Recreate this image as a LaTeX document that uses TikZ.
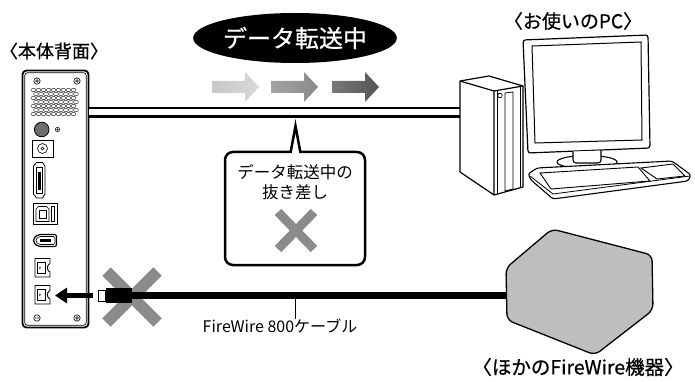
\documentclass[tikz,border=0pt]{standalone}
\usepackage{fontspec}
\setmainfont{Noto Sans CJK JP}
\newfontfamily\heavyjp{Noto Sans CJK JP}[FakeBold=0.7]
\usetikzlibrary{shapes.geometric,arrows.meta}

\definecolor{xgray}{HTML}{8A8B8D}
\definecolor{devgray}{HTML}{BCBEC0}
\definecolor{knob}{HTML}{6D6E71}

\tikzset{
  caption/.style={inner sep=0pt, font=\heavyjp\fontsize{#1}{20}\selectfont},
  note/.style={inner sep=0pt, align=center, font=\fontsize{16.5}{20}\selectfont},
  cross/.style={xgray, line width=#1},
  thin line/.style={line width=0.7pt},
}

\begin{document}
\begin{tikzpicture}[x=1pt,y=-1pt]
\useasboundingbox (0,0) rectangle (695,382);

% captions
\node[caption=18] (unitlbl) at (54,51) {〈本体背面〉};
\node[caption=19] (pclbl) at (573,21) {〈お使いのPC〉};
\node[caption=19.5] (fwlbl) at (578,367) {〈ほかのFireWire機器〉};

% "transferring" badge and flow arrows
\node[ellipse, fill=black, text=white, inner sep=0pt, minimum width=184pt,
      minimum height=50pt, font=\heavyjp\fontsize{24}{26}\selectfont] (busy) at (295,38) {データ転送中};
\foreach \x/\ca/\cb in {212/22/15, 271/36/46, 332/53/67}
  \shade[left color=black!\ca, right color=black!\cb]
    (\x,81) -- ++(33,0) -- ++(0,-9) -- ++(14,15) -- ++(-14,15) -- ++(0,-9) -- ++(-33,0) -- cycle;

% rear panel of the drive
\node[draw, fill=white, line width=1.8pt, rounded corners=4pt, inner sep=0pt,
      minimum width=66pt, minimum height=257pt] (unit) at (55.5,199) {};
\draw[thin line, rounded corners=2.5pt] ([xshift=3.2pt,yshift=-3.2pt]unit.north west)
  rectangle ([xshift=-3.2pt,yshift=3.2pt]unit.south east);
\foreach \x in {37,77}
  \draw[line width=0.6pt] (\x,81) circle (3.2pt) (\x-2,81) -- (\x+2,81) (\x,79) -- (\x,83);
\draw[line width=0.6pt] (37,318) circle (3.2pt) (35,318) -- (39,318);
\draw[line width=0.6pt] (77,318) circle (3.2pt) (75,318) -- (79,318) (77,316) -- (77,320);
% vent holes
\foreach \r in {0,...,6}
  \foreach \c in {0,...,8}
    \draw[line width=0.35pt] ({33.5+\c*5+mod(\r,2)*2.5},{90+\r*4}) ellipse (2.4pt and 1.7pt);
% power button, LED, DC jack
\draw[fill=knob, line width=0.8pt] (41.7,129.5) circle (7.3pt);
\draw[line width=0.5pt] (57.5,129.5) circle (2.2pt) (57.5,129.5) circle (0.8pt);
\draw[line width=0.8pt] (32,140) rectangle (53,157);
\draw[line width=0.6pt] (42.5,148.5) circle (5pt) (42.5,148.5) circle (1.5pt);
% eSATA
\draw[line width=0.8pt] (36.5,162.5) -- (42.5,162.5) -- (45,166) -- (45,194) -- (42.5,198)
  -- (36.5,198) -- (33.5,194) -- (33.5,166) -- cycle;
\draw[line width=0.5pt] (36,167) rectangle (42.5,193);
\fill (37.6,172) rectangle (40.6,190);
% USB
\draw[line width=0.9pt] (33.5,203.5) rectangle (57,224);
\draw[thin line] (36,209) -- (38.5,206.5) -- (46.5,206.5) -- (49,209) -- (49,221.5) -- (36,221.5) -- cycle;
\draw[line width=0.5pt] (39,210) rectangle (46,218.5);
\draw[thin line] (51.5,206.5) rectangle (54.5,221.5);
% FireWire 400
\draw[line width=1.2pt, rounded corners=2pt] (56.5,234.5) -- (38,234.5) -- (33.5,238.5)
  -- (33.5,242.5) -- (38,246.5) -- (56.5,246.5) -- cycle;
\draw[line width=0.6pt, rounded corners=1.5pt] (55,236.5) -- (39,236.5) -- (36,239)
  -- (36,242) -- (39,244.5) -- (55,244.5) -- cycle;
\fill (40,239.4) rectangle (51,241.6);
% FireWire 800 ports
\foreach \y in {258.5,285.5} {
  \draw[line width=0.9pt] (35,\y) -- (50,\y) -- (50,\y+5)
    .. controls (46.5,\y+6) and (46.5,\y+12.5) .. (50,\y+13.5) -- (50,\y+18.5) -- (35,\y+18.5) -- cycle;
  \draw[line width=0.6pt] (37.5,\y+3.5) rectangle (45,\y+15);
  \draw[line width=0.5pt] (39.3,\y+8.3) -- (40.5,\y+9.3) -- (39.3,\y+10.3);
}
\coordinate (portb) at (55,295.5);

% link to the PC
\coordinate (unitout) at (89,112.5);
\coordinate (pcin) at (461,112.5);
\draw[double=white, double distance=6pt, line width=2.6pt] (unitout) -- (pcin);

% monitor
\draw[line width=1.2pt, fill=white, rounded corners=2.5pt] (523,40) -- (648,35) -- (650,148) -- (528,153) -- cycle;
\draw[line width=1pt] (532,46) -- (641,42) -- (642,140) -- (535,143) -- cycle;
\draw[fill=white, line width=1.1pt] (587,162) ellipse (30pt and 6.5pt);
\draw[fill=white, line width=1.1pt, rounded corners=3pt] (573,151.5) -- (573,163) -- (601,163) -- (601,150.5);
% keyboard
\draw[line width=1.1pt, fill=white, rounded corners=2.5pt] (528,174) -- (537,168) -- (672,161) -- (691,175)
  -- (688,181) -- (553,199) -- (531,180) -- cycle;
\draw[line width=0.8pt] (530,176) -- (553,194) -- (690,176);
\draw[line width=0.9pt] (540,173) -- (638,167) -- (650,181) -- (551,189) -- cycle;
\draw[line width=0.9pt] (641,168) -- (673,164) -- (685,176) -- (657,179) -- cycle;
% tower
\draw[line width=1.2pt, fill=white, line join=round] (460,81) -- (489,76) -- (523,86) -- (523,187)
  -- (494,195) -- (460,172) -- cycle;
\draw[line width=1.2pt, line join=round] (460,81) -- (494,91) -- (523,86) (494,91) -- (494,195);
\draw[line width=0.6pt] (497,90.5) -- (497,194) (520,86.5) -- (520,188);
\draw[line width=0.8pt] (505,93) -- (513,92) -- (513,189) -- (505,191) -- cycle;
\draw[line width=0.7pt] (500,95.5) circle (2.3pt);

% warning bubble
\node[draw, fill=white, line width=2.5pt, rounded corners=8pt, inner sep=0pt,
      minimum width=140pt, minimum height=113pt] (warn) at (295,208.5) {};
\fill[white] (289.5,156) -- (295.5,124) -- (301.5,156) -- cycle;
\draw[line width=2.5pt] (290.5,153) -- (295.5,126) -- (300.5,153);
\node[note] (warntxt) at (295,182) {データ転送中の\\抜き差し};
\draw[cross=9pt] (278,212) -- (314,249) (314,212) -- (278,249);

% FireWire 800 cable
\draw[cross=12pt] (106.5,271.5) -- (157.5,322.5) (157.5,271.5) -- (106.5,322.5);
\node[fill=black, inner sep=0pt, minimum width=26pt, minimum height=15pt] (plug) at (119,295.5) {};
\node[draw, fill=white, line width=0.8pt, inner sep=0pt, minimum width=7pt, minimum height=11pt,
      anchor=east] (tip) at (plug.west) {};
\coordinate (fwin) at (509,295.5);
\draw[line width=7pt] (plug.east) -- (fwin);
\draw[line width=4.5pt, -{Triangle[length=12pt,width=15pt]}] ([xshift=-5pt]tip.west) -- (portb);

% other FireWire device
\draw[fill=devgray, line width=1.3pt, rounded corners=6pt] (552,229) -- (652,255) -- (653,310)
  -- (595,355) -- (507,320) -- (506,268) -- cycle;

% cable label
\node[inner sep=0pt, font=\fontsize{16}{18}\selectfont] (cablelbl) at (280,326) {FireWire 800ケーブル};
\coordinate (tap) at (295,299);
\draw[line width=0.8pt] (tap) -- (tap |- cablelbl.north);
\end{tikzpicture}
\end{document}
